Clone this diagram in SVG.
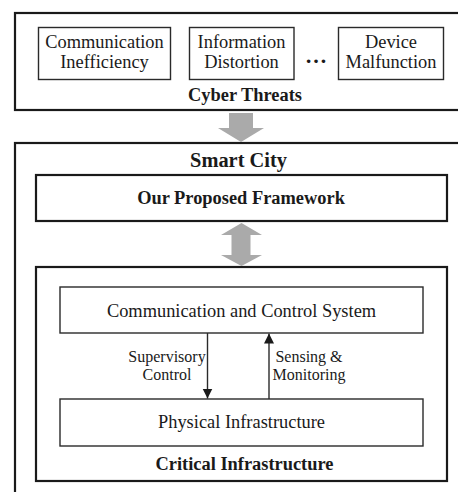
<svg xmlns="http://www.w3.org/2000/svg" width="458" height="492" viewBox="0 0 458 492">
  <style>
    .outer { fill: #ffffff; stroke: #1a1a1a; stroke-width: 2.2; }
    .box { fill: #ffffff; stroke: #2a2a2a; stroke-width: 1.4; }
    text { font-family: 'Liberation Serif', 'Times New Roman', Times, serif; fill: #1a1a1a; text-anchor: middle; }
    .t { font-size: 18.4px; }
    .b { font-weight: bold; }
    .lbl { font-size: 16px; }
    .big { fill: #aaaaaa; stroke: none; }
    .link { stroke: #2a2a2a; stroke-width: 1.4; fill: none; }
  </style>
  <defs>
    <marker id="tip" viewBox="0 0 10 14" refX="10" refY="7" markerWidth="10" markerHeight="14" markerUnits="userSpaceOnUse" orient="auto">
      <path d="M0,2 L10,7 L0,12 Z" fill="#1a1a1a"/>
    </marker>
  </defs>

  <rect width="458" height="492" fill="#ffffff"/>

  <!-- threat sources -->
  <g id="cyber-threats">
    <rect class="outer" x="15" y="13" width="460" height="97"/>
    <text class="t b" x="245" y="101">Cyber Threats</text>
  </g>
  <g id="communication-inefficiency">
    <rect class="box" x="38.5" y="27.5" width="132" height="52"/>
    <text class="t" x="104.5" y="48">Communication</text>
    <text class="t" x="104.5" y="68">Inefficiency</text>
  </g>
  <g id="information-distortion">
    <rect class="box" x="189.5" y="27.5" width="104.5" height="52"/>
    <text class="t" x="241.5" y="48">Information</text>
    <text class="t" x="241.5" y="68">Distortion</text>
  </g>
  <g id="ellipsis">
    <text class="b" x="316" y="63" style="font-size:22px">…</text>
  </g>
  <g id="device-malfunction">
    <rect class="box" x="338.5" y="27.5" width="105" height="52"/>
    <text class="t" x="391" y="48">Device</text>
    <text class="t" x="391" y="68">Malfunction</text>
  </g>

  <!-- city level -->
  <g id="smart-city">
    <rect class="outer" x="15" y="143" width="460" height="380"/>
    <text class="b" x="238.5" y="167" style="font-size:20.4px">Smart City</text>
  </g>
  <g id="proposed-framework">
    <rect class="outer" x="36" y="175" width="411" height="46" stroke-width="1.8"/>
    <text class="t b" x="241" y="204">Our Proposed Framework</text>
  </g>
  <g id="critical-infrastructure">
    <rect class="outer" x="36" y="267" width="411" height="214" stroke-width="1.8"/>
    <text class="t b" x="244.5" y="470">Critical Infrastructure</text>
  </g>
  <g id="communication-control-system">
    <rect class="box" x="60" y="287" width="363" height="46"/>
    <text class="t" x="241.5" y="317">Communication and Control System</text>
  </g>
  <g id="physical-infrastructure">
    <rect class="box" x="60" y="399" width="363" height="47"/>
    <text class="t" x="241.5" y="428">Physical Infrastructure</text>
  </g>

  <!-- connectors -->
  <g id="connectors">
    <path class="big" d="M229,113 H253 V128 H264 L241,142 L218,128 H229 Z"/>
    <path class="big" d="M241.5,223 L262,235 H250.5 V255 H262 L241.5,266 L221,255 H231.5 V235 H221 Z"/>
    <line class="link" x1="207.5" y1="333" x2="207.5" y2="398.5" marker-end="url(#tip)"/>
    <line class="link" x1="269" y1="399" x2="269" y2="333.5" marker-end="url(#tip)"/>
    <text class="lbl" x="167" y="362">Supervisory</text>
    <text class="lbl" x="167" y="380">Control</text>
    <text class="lbl" x="309" y="362">Sensing &amp;</text>
    <text class="lbl" x="309" y="380">Monitoring</text>
  </g>
</svg>
